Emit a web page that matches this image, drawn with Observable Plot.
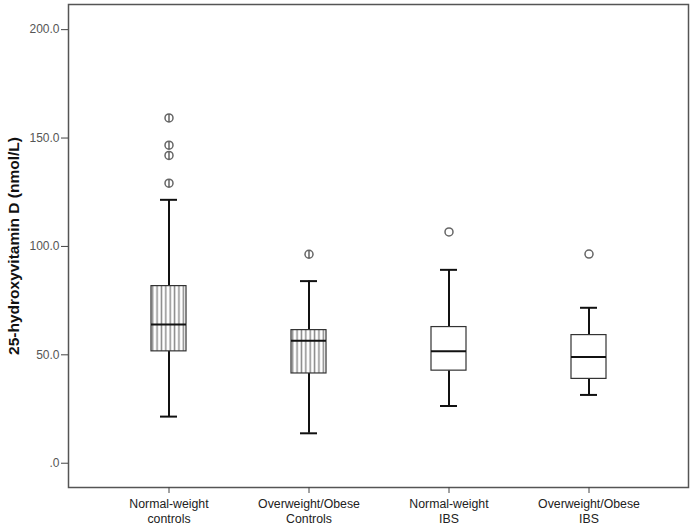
<!DOCTYPE html>
<html>
<head>
<meta charset="utf-8">
<script src="https://cdn.jsdelivr.net/npm/d3@7"></script>
<script src="https://cdn.jsdelivr.net/npm/@observablehq/plot@0.6"></script>
<style>
  body { margin: 0; background: #fff; }
  #chart svg { font-family: "Liberation Sans", Arial, sans-serif; }
  #chart [aria-label="y-axis label"] text { font-weight: bold; font-size: 15.5px; fill: #111; }
</style>
</head>
<body>
<div id="chart"></div>
<script>
const groups = ["Normal-weight\ncontrols", "Overweight/Obese\nControls", "Normal-weight\nIBS", "Overweight/Obese\nIBS"];
const lowerWhisker = [21.5, 13.8, 26.4, 31.5];
const q1 = [51.6, 41.4, 42.7, 38.9];
const median = [64.0, 56.5, 51.6, 49.0];
const q3 = [81.7, 61.4, 62.8, 59.1];
const upperWhisker = [121.5, 84.0, 89.2, 71.7];
const hatched = [true, true, false, false];
const outlierGroup = [0, 0, 0, 0, 1, 2, 3];
const outlierValue = [159.3, 146.7, 142.0, 129.2, 96.4, 106.7, 96.5];
const yTicks = [0, 50, 100, 150, 200];

const boxes = groups.map((g, i) => ({
  g, lo: lowerWhisker[i], q1: q1[i], med: median[i], q3: q3[i], hi: upperWhisker[i], hatched: hatched[i]
}));
const outliers = outlierGroup.map((gi, i) => ({ g: groups[gi], v: outlierValue[i], hatched: hatched[gi] }));

const barSymbol = {
  draw(context, size) {
    const r = Math.sqrt(size / Math.PI);
    context.moveTo(r, 0);
    context.arc(0, 0, r, 0, 2 * Math.PI);
    context.moveTo(0, -r);
    context.lineTo(0, r);
  }
};

const chart = Plot.plot({
  width: 693,
  height: 525,
  marginLeft: 68,
  marginRight: 5,
  marginTop: 4,
  marginBottom: 38,
  style: { fontSize: "12px", color: "#555" },
  x: { domain: groups, paddingInner: 0.75, paddingOuter: 0.589, label: null },
  y: { domain: [-11.2, 211.6], label: null },
  marks: [
    Plot.frame({ stroke: "#555", strokeWidth: 1.5 }),
    Plot.axisY({ ticks: yTicks, tickSize: 7, tickPadding: 2, tickFormat: d => d === 0 ? ".0" : d.toFixed(1),
      label: "25-hydroxyvitamin D (nmol/L)", labelAnchor: "center", labelArrow: "none", labelOffset: 61, stroke: "#444", fill: "#555" }),
    Plot.axisX({ tickSize: 6, tickPadding: 4, stroke: "#444", fill: "#222", lineHeight: 1.2, fontSize: 12.3 }),
    Plot.ruleX(boxes, { x: "g", y1: "lo", y2: "q1", stroke: "#111", strokeWidth: 2 }),
    Plot.ruleX(boxes, { x: "g", y1: "q3", y2: "hi", stroke: "#111", strokeWidth: 2 }),
    Plot.tickY(boxes, { x: "g", y: "lo", stroke: "#111", strokeWidth: 2, insetLeft: 9, insetRight: 9 }),
    Plot.tickY(boxes, { x: "g", y: "hi", stroke: "#111", strokeWidth: 2, insetLeft: 9, insetRight: 9 }),
    Plot.barY(boxes, { x: "g", y1: "q1", y2: "q3", fill: d => d.hatched ? "url(#vstripes)" : "#fff", stroke: "#333", strokeWidth: 1.2 }),
    Plot.tickY(boxes, { x: "g", y: "med", stroke: "#111", strokeWidth: 2 }),
    Plot.dot(outliers.filter(d => d.hatched), { x: "g", y: "v", r: 4, symbol: barSymbol, stroke: "#666", strokeWidth: 1.5, fill: "#fff" }),
    Plot.dot(outliers.filter(d => !d.hatched), { x: "g", y: "v", r: 4, symbol: "circle", stroke: "#666", strokeWidth: 1.5, fill: "#fff" })
  ]
});

const ns = "http://www.w3.org/2000/svg";
const defs = document.createElementNS(ns, "defs");
const pat = document.createElementNS(ns, "pattern");
pat.setAttribute("id", "vstripes");
pat.setAttribute("patternUnits", "userSpaceOnUse");
pat.setAttribute("x", "150.5");
pat.setAttribute("y", "0");
pat.setAttribute("width", "4.375");
pat.setAttribute("height", "10");
const bg = document.createElementNS(ns, "rect");
bg.setAttribute("width", "4.375"); bg.setAttribute("height", "10"); bg.setAttribute("fill", "#fff");
const ln = document.createElementNS(ns, "line");
ln.setAttribute("x1", "2.2"); ln.setAttribute("x2", "2.2"); ln.setAttribute("y1", "0"); ln.setAttribute("y2", "10");
ln.setAttribute("stroke", "#8a8a8a"); ln.setAttribute("stroke-width", "1.5");
pat.appendChild(bg); pat.appendChild(ln); defs.appendChild(pat);
chart.insertBefore(defs, chart.firstChild);

document.getElementById("chart").appendChild(chart);
</script>
</body>
</html>
